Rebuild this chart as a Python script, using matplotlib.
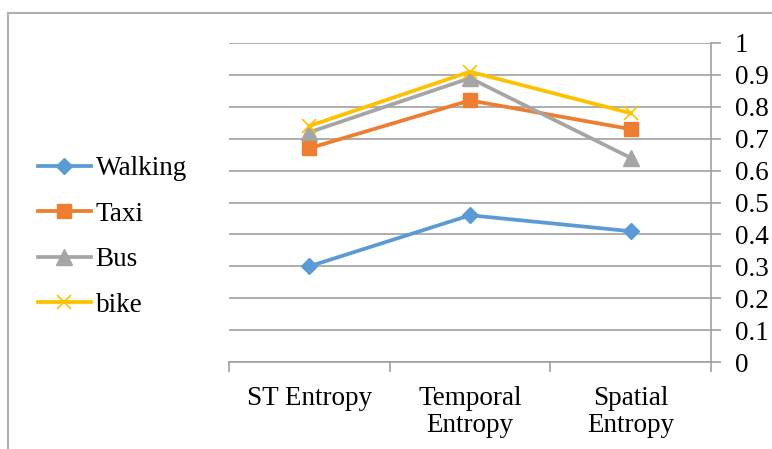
import matplotlib.pyplot as plt
from matplotlib.lines import Line2D

# data
categories = ["ST Entropy", "Temporal\nEntropy", "Spatial\nEntropy"]
walking = [0.30, 0.46, 0.41]
taxi = [0.67, 0.82, 0.73]
bus = [0.72, 0.89, 0.64]
bike = [0.74, 0.91, 0.78]
yticks = [0, 0.1, 0.2, 0.3, 0.4, 0.5, 0.6, 0.7, 0.8, 0.9, 1]
ytick_labels = ["0", "0.1", "0.2", "0.3", "0.4", "0.5", "0.6", "0.7", "0.8", "0.9", "1"]

plt.rcParams['font.family'] = ['Liberation Serif', 'DejaVu Serif']
fs = 19.5

fig = plt.figure(figsize=(7.72, 4.49), dpi=100)
ax = fig.add_axes([229/772, 1 - 362/449, (711 - 229)/772, (362 - 43)/449])

x = range(len(categories))
ax.plot(x, walking, color='#5B9BD5', lw=2.7, marker='D', ms=8, label='Walking')
ax.plot(x, taxi, color='#ED7D31', lw=2.7, marker='s', ms=10, label='Taxi')
ax.plot(x, bus, color='#A5A5A5', lw=2.7, marker='^', ms=11, label='Bus')
ax.plot(x, bike, color='#FFC000', lw=2.7, marker='x', ms=10, mew=1.2, label='bike')

ax.set_xlim(-0.5, 2.5)
ax.set_ylim(0, 1)

# y axis on the right
ax.yaxis.tick_right()
ax.set_yticks(yticks)
ax.set_yticklabels(ytick_labels, fontsize=fs)
ax.tick_params(axis='y', length=7, width=1.2, color='#a0a0a0', pad=10)
for lab in ax.get_yticklabels():
    lab.set_horizontalalignment('left')
ax.yaxis.grid(True, color='#a0a0a0', lw=1.2)
ax.set_axisbelow(True)

# category labels without tick marks, tick marks between categories
ax.set_xticks(list(x))
ax.set_xticklabels(categories, fontsize=fs, linespacing=1.12, va='top')
ax.tick_params(axis='x', which='major', length=0, pad=17)
ax.set_xticks([-0.5, 0.5, 1.5, 2.5], minor=True)
ax.tick_params(axis='x', which='minor', length=7, width=1.2, color='#a0a0a0')

for s in ['left', 'top']:
    ax.spines[s].set_visible(False)
for s in ['right', 'bottom']:
    ax.spines[s].set_color('#a0a0a0')
    ax.spines[s].set_linewidth(1.2)

fig.legend(loc='center left', bbox_to_anchor=(27/772, 1 - 237/449), frameon=False,
           fontsize=fs, handlelength=1.95, handletextpad=0.18, labelspacing=0.76,
           borderaxespad=0)

# chart border (clipped at right and bottom)
fig.add_artist(Line2D([8/772, 1.0], [1 - 13/449, 1 - 13/449], color='#b0b0b0', lw=1.5))
fig.add_artist(Line2D([8/772, 8/772], [0.0, 1 - 13/449], color='#b0b0b0', lw=1.5))

fig.savefig('out.png', dpi=100)
